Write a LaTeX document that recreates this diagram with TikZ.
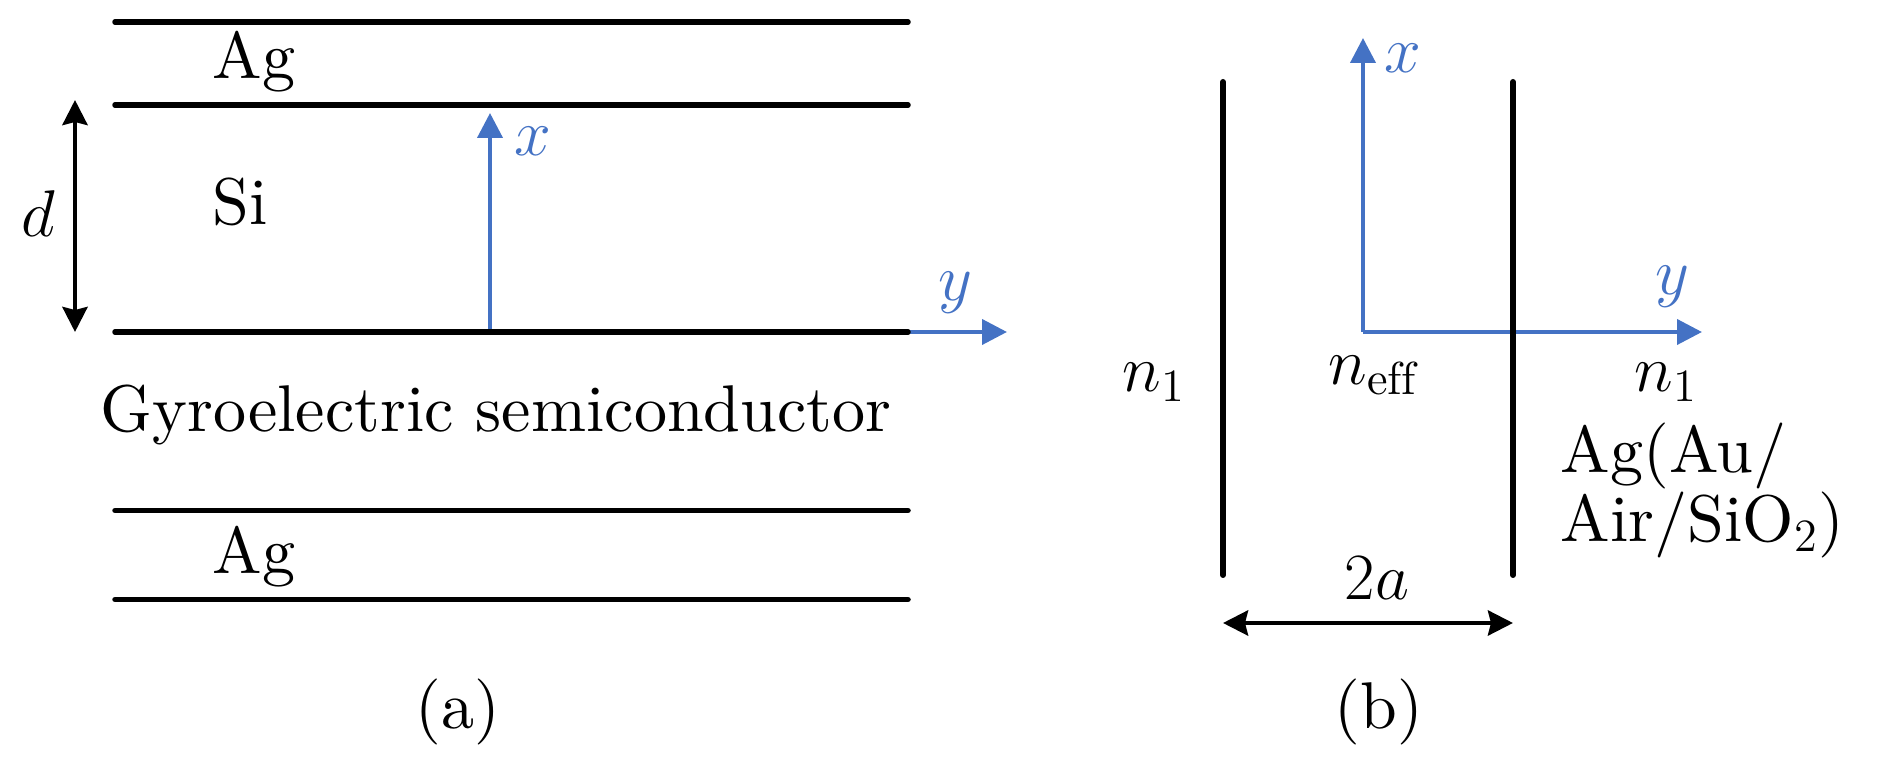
\documentclass[tikz,border=0pt]{standalone}
\usepackage{fix-cm}
\usepackage{fontspec}
\setmainfont{lmroman10}[Extension=.otf, UprightFont=*-regular, ItalicFont=*-italic, BoldFont=*-bold]
\usetikzlibrary{arrows.meta}
\definecolor{axisblue}{RGB}{68,114,196}
\tikzset{
  layer/.style={line width=0.55mm, line cap=round},
  wall/.style={line width=0.6mm, line cap=round},
  axis/.style={axisblue, line width=0.4mm, -{Triangle[length=2.5mm,width=2.5mm]}},
  dimen/.style={line width=0.45mm, {Stealth[length=2.5mm,width=2.5mm,inset=0.3mm]}-{Stealth[length=2.5mm,width=2.5mm,inset=0.3mm]}},
  lbl/.style={inner sep=0pt}
}
\begin{document}
\begin{tikzpicture}[font=\fontsize{18.8}{17}\selectfont]
        \useasboundingbox (0,0) rectangle (18.9,7.56);

        % (a) slab waveguide
        \coordinate (Oa) at (4.90,4.24);
        \coordinate (xa) at (4.90,6.43);
        \coordinate (ya) at (10.07,4.24);
        \draw[axis] (Oa) -- (xa);
        \draw[axis] (Oa) -- (ya);
        \node[lbl, axisblue] (xalbl) at (5.33,6.15) {$x$};
        \node[lbl, axisblue] (yalbl) at (9.55,4.63) {$y$};

        \draw[layer] (1.15,7.34) -- (9.08,7.34);
        \draw[layer] (1.15,6.51) coordinate (dtop) -- (9.08,6.51);
        \draw[layer] (1.15,4.24) coordinate (dbot) -- (9.08,4.24);
        \draw[layer] (1.15,2.455) -- (9.08,2.455);
        \draw[layer] (1.15,1.565) -- (9.08,1.565);

        \node[lbl, anchor=base west] (agtop) at (2.12,6.77) {Ag};
        \node[lbl, anchor=base west] (si) at (2.12,5.31) {Si};
        \node[lbl, anchor=base] (gyro) at (4.96,3.24) {Gyroelectric semiconductor};
        \node[lbl, anchor=base west] (agbot) at (2.12,1.82) {Ag};

        \coordinate (da) at (0.75,4.24);
        \coordinate (db) at (0.75,6.56);
        \draw[dimen] (da) -- (db);
        \node[lbl, anchor=base] (dlbl) at (0.38,5.19) {$d$};

        \node[lbl, anchor=base] (capa) at (4.58,0.28) {(a)};

        % (b) slot waveguide
        \coordinate (Ob) at (13.63,4.24);
        \coordinate (xb) at (13.63,7.18);
        \coordinate (yb) at (17.02,4.24);
        \draw[axis] (Ob) -- (xb);
        \draw[axis] (Ob) -- (yb);
        \node[lbl, axisblue] (xblbl) at (14.03,6.98) {$x$};
        \node[lbl, axisblue] (yblbl) at (16.72,4.69) {$y$};

        \draw[wall] (12.23,6.74) coordinate (wl) -- (12.23,1.81);
        \draw[wall] (15.13,6.74) coordinate (wr) -- (15.13,1.81);

        \node[lbl, anchor=base] (n1l) at (11.54,3.64) {$n_1$};
        \node[lbl, anchor=base] (neff) at (13.73,3.71) {$n_{\mathrm{eff}}$};
        \node[lbl, anchor=base] (n1r) at (16.66,3.64) {$n_1$};
        \node[lbl, anchor=base west, align=left] (metal) at (15.60,2.14) {Ag(Au/\\Air/SiO$_2$)};

        \coordinate (wa) at (12.23,1.33);
        \coordinate (wb) at (15.13,1.33);
        \draw[dimen] (wa) -- (wb);
        \node[lbl, anchor=base] (twoa) at (13.77,1.56) {$2a$};

        \node[lbl, anchor=base] (capb) at (13.79,0.28) {(b)};
    \end{tikzpicture}
\end{document}
